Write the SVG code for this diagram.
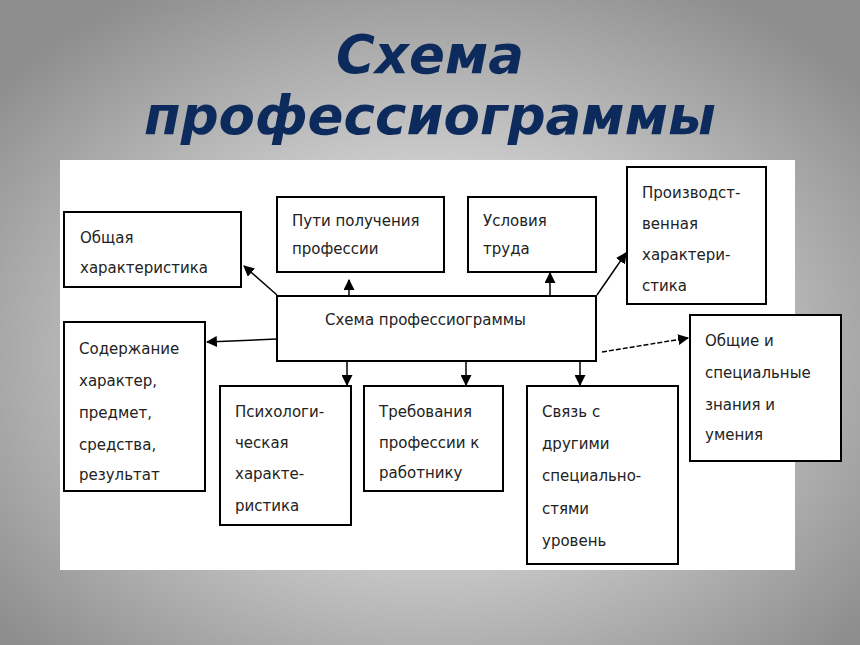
<svg xmlns="http://www.w3.org/2000/svg" width="860" height="645" viewBox="0 0 860 645">
<defs>
<radialGradient id="bg" cx="50%" cy="55%" r="65%">
<stop offset="0" stop-color="#ffffff"/><stop offset="1" stop-color="#8e8e8e"/>
</radialGradient>
<marker id="ah" viewBox="0 0 10 10" refX="9" refY="5" markerWidth="11" markerHeight="11" markerUnits="userSpaceOnUse" orient="auto"><path d="M0,0L10,5L0,10z" fill="#000"/></marker>
<style>
.b{fill:#fff;stroke:#000;stroke-width:2}
.t{font-family:"DejaVu Sans",sans-serif;font-size:15px;fill:#222}
.c{stroke:#000;stroke-width:1.5;fill:none;marker-end:url(#ah)}
</style>
</defs>
<rect width="860" height="645" fill="url(#bg)"/>
<g font-family="DejaVu Sans, sans-serif" font-weight="bold" font-style="italic" font-size="53" fill="#0d2a5c" text-anchor="middle">
<text x="430" y="73">Схема</text><text x="430" y="134">профессиограммы</text>
</g>
<rect x="60" y="160" width="735" height="410" fill="#fff"/>
<g id="connectors">
<path class="c" d="M277,295L244,266"/>
<path class="c" d="M349,296L349,280"/>
<path class="c" d="M550,296L550,273"/>
<path class="c" d="M597,295L626,253"/>
<path class="c" d="M277,339L207,342"/>
<path class="c" d="M347,361L347,385"/>
<path class="c" d="M466,361L466,385"/>
<path class="c" d="M580,361L580,385"/>
<path class="c" d="M602,352L688,338" stroke-dasharray="5,2"/>
</g>
<g id="center"><rect class="b" x="277" y="296" width="319" height="65"/><text class="t" x="325" y="325">Схема профессиограммы</text></g>
<g id="obsh"><rect class="b" x="64" y="212" width="177" height="75"/><text class="t" x="80" y="243">Общая</text><text class="t" x="80" y="273">характеристика</text></g>
<g id="puti"><rect class="b" x="277" y="197" width="167" height="75"/><text class="t" x="292" y="226">Пути получения</text><text class="t" x="292" y="254">профессии</text></g>
<g id="usl"><rect class="b" x="468" y="197" width="128" height="75"/><text class="t" x="483" y="226">Условия</text><text class="t" x="483" y="254">труда</text></g>
<g id="proizv"><rect class="b" x="627" y="167" width="139" height="137"/><text class="t" x="642" y="198">Производст-</text><text class="t" x="642" y="229">венная</text><text class="t" x="642" y="260">характери-</text><text class="t" x="642" y="291">стика</text></g>
<g id="soder"><rect class="b" x="64" y="322" width="141" height="169"/><text class="t" x="79" y="354">Содержание</text><text class="t" x="79" y="386">характер,</text><text class="t" x="79" y="418">предмет,</text><text class="t" x="79" y="450">средства,</text><text class="t" x="79" y="480">результат</text></g>
<g id="psych"><rect class="b" x="220" y="386" width="131" height="139"/><text class="t" x="235" y="417">Психологи-</text><text class="t" x="235" y="448">ческая</text><text class="t" x="235" y="479">характе-</text><text class="t" x="235" y="511">ристика</text></g>
<g id="treb"><rect class="b" x="364" y="386" width="139" height="105"/><text class="t" x="379" y="417">Требования</text><text class="t" x="379" y="448">профессии к</text><text class="t" x="379" y="478">работнику</text></g>
<g id="svyaz"><rect class="b" x="527" y="386" width="151" height="178"/><text class="t" x="542" y="417">Связь с</text><text class="t" x="542" y="449">другими</text><text class="t" x="542" y="481">специально-</text><text class="t" x="542" y="514">стями</text><text class="t" x="542" y="546">уровень</text></g>
<g id="znan"><rect class="b" x="690" y="315" width="151" height="146"/><text class="t" x="705" y="346">Общие и</text><text class="t" x="705" y="378">специальные</text><text class="t" x="705" y="410">знания и</text><text class="t" x="705" y="440">умения</text></g>
</svg>
